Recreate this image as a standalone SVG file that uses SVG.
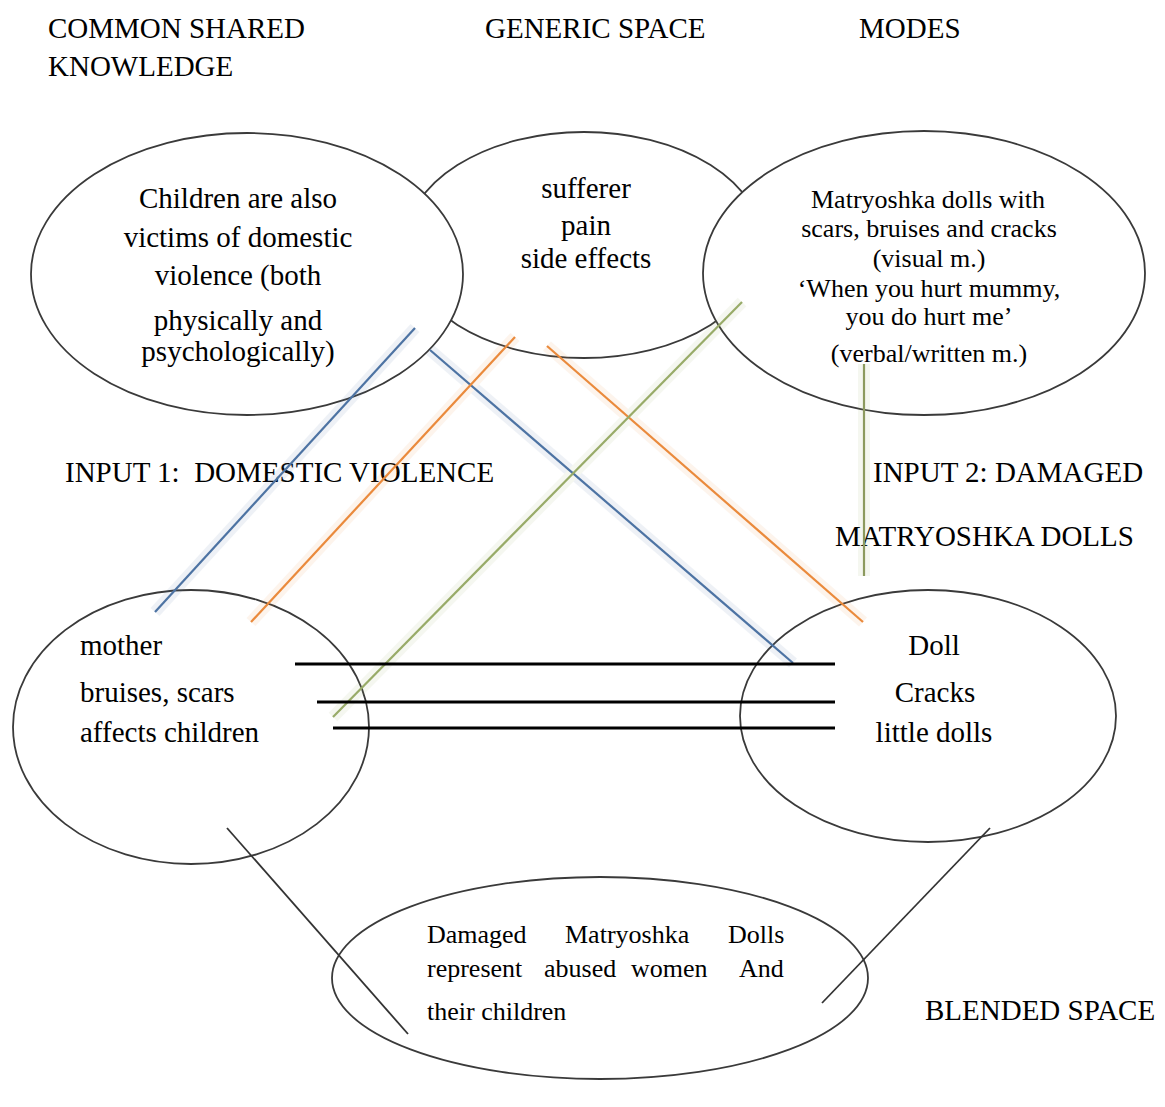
<svg xmlns="http://www.w3.org/2000/svg" width="1165" height="1107" viewBox="0 0 1165 1107">
  <style>
    text { font-family: "Liberation Serif", "Times New Roman", serif; fill: #000; }
    .head { font-size: 29px; }
    .body { font-size: 29px; }
    .small { font-size: 26px; }
    .mid { text-anchor: middle; }
    .space { fill: #fff; stroke: #3a3a3a; stroke-width: 1.8; }
    .map { fill: none; stroke-width: 2.2; stroke-linecap: butt; }
    .halo { fill: none; stroke-width: 12; opacity: 0.09; }
    .blue { stroke: #4d73a3; }
    .orange { stroke: #ea8a3c; }
    .green { stroke: #98ab68; }
    .olive { stroke: #8c9a5e; }
    .link { stroke: #000; stroke-width: 3; }
    .feed { stroke: #333; stroke-width: 1.8; }
  </style>

  <rect width="1165" height="1107" fill="#fff"/>

  <!-- section headings -->
  <g id="headings" class="head">
    <text x="48" y="38">COMMON SHARED</text>
    <text x="48" y="76">KNOWLEDGE</text>
    <text x="485" y="38">GENERIC SPACE</text>
    <text x="859" y="38">MODES</text>
    <text x="65" y="482" xml:space="preserve">INPUT 1:  DOMESTIC VIOLENCE</text>
    <text x="873" y="482">INPUT 2: DAMAGED</text>
    <text x="835" y="546">MATRYOSHKA DOLLS</text>
    <text x="925" y="1020">BLENDED SPACE</text>
  </g>

  <!-- generic space sits beneath the two neighbouring spaces -->
  <g id="generic-space">
    <ellipse class="space" cx="584" cy="245" rx="179" ry="113"/>
    <text class="body mid" x="586" y="198">sufferer</text>
    <text class="body mid" x="586" y="235">pain</text>
    <text class="body mid" x="586" y="268">side effects</text>
  </g>

  <g id="shared-knowledge">
    <ellipse class="space" cx="247" cy="274" rx="216" ry="141"/>
    <text class="body mid" x="238" y="208">Children are also</text>
    <text class="body mid" x="238" y="247">victims of domestic</text>
    <text class="body mid" x="238" y="285">violence (both</text>
    <text class="body mid" x="238" y="330">physically and</text>
    <text class="body mid" x="238" y="361">psychologically)</text>
  </g>

  <g id="modes">
    <ellipse class="space" cx="924" cy="273" rx="221" ry="142"/>
    <text class="small mid" x="928" y="208">Matryoshka dolls with</text>
    <text class="small mid" x="929" y="237">scars, bruises and cracks</text>
    <text class="small mid" x="929" y="267">(visual m.)</text>
    <text class="small mid" x="929" y="297">‘When you hurt mummy,</text>
    <text class="small mid" x="929" y="325">you do hurt me’</text>
    <text class="small mid" x="929" y="362">(verbal/written m.)</text>
  </g>

  <g id="input-1">
    <ellipse class="space" cx="191" cy="727" rx="178" ry="137"/>
    <text class="body" x="80" y="655">mother</text>
    <text class="body" x="80" y="702">bruises, scars</text>
    <text class="body" x="80" y="742">affects children</text>
  </g>

  <g id="input-2">
    <ellipse class="space" cx="928" cy="716" rx="188" ry="126"/>
    <text class="body mid" x="934" y="655">Doll</text>
    <text class="body mid" x="935" y="702">Cracks</text>
    <text class="body mid" x="934" y="742">little dolls</text>
  </g>

  <g id="blended-space">
    <ellipse class="space" cx="600" cy="978" rx="268" ry="101"/>
    <text class="small" y="943"><tspan x="427">Damaged</tspan><tspan x="565">Matryoshka</tspan><tspan x="728">Dolls</tspan></text>
    <text class="small" y="977"><tspan x="427">represent</tspan><tspan x="544">abused</tspan><tspan x="631">women</tspan><tspan x="739">And</tspan></text>
    <text class="small" x="427" y="1020">their children</text>
  </g>

  <!-- cross-space mappings and projections -->
  <g id="connectors">
    <g class="halo">
      <line class="blue" x1="155" y1="612" x2="415" y2="328"/>
      <line class="blue" x1="430" y1="350" x2="793" y2="663"/>
      <line class="orange" x1="251" y1="622" x2="515" y2="337"/>
      <line class="orange" x1="547" y1="346" x2="863" y2="622"/>
      <line class="green" x1="333" y1="717" x2="742" y2="302"/>
      <line class="green" x1="864" y1="364" x2="864" y2="576"/>
    </g>
    <line class="map blue" x1="155" y1="612" x2="415" y2="328"/>
    <line class="map blue" x1="430" y1="350" x2="793" y2="663"/>
    <line class="map orange" x1="251" y1="622" x2="515" y2="337"/>
    <line class="map orange" x1="547" y1="346" x2="863" y2="622"/>
    <line class="map green" x1="333" y1="717" x2="742" y2="302"/>
    <line class="map olive" x1="864" y1="364" x2="864" y2="576"/>

    <line class="link" x1="295" y1="664" x2="835" y2="664"/>
    <line class="link" x1="317" y1="702" x2="835" y2="702"/>
    <line class="link" x1="333" y1="728" x2="835" y2="728"/>

    <line class="feed" x1="227" y1="828" x2="408" y2="1034"/>
    <line class="feed" x1="990" y1="828" x2="822" y2="1003"/>
  </g>
</svg>
